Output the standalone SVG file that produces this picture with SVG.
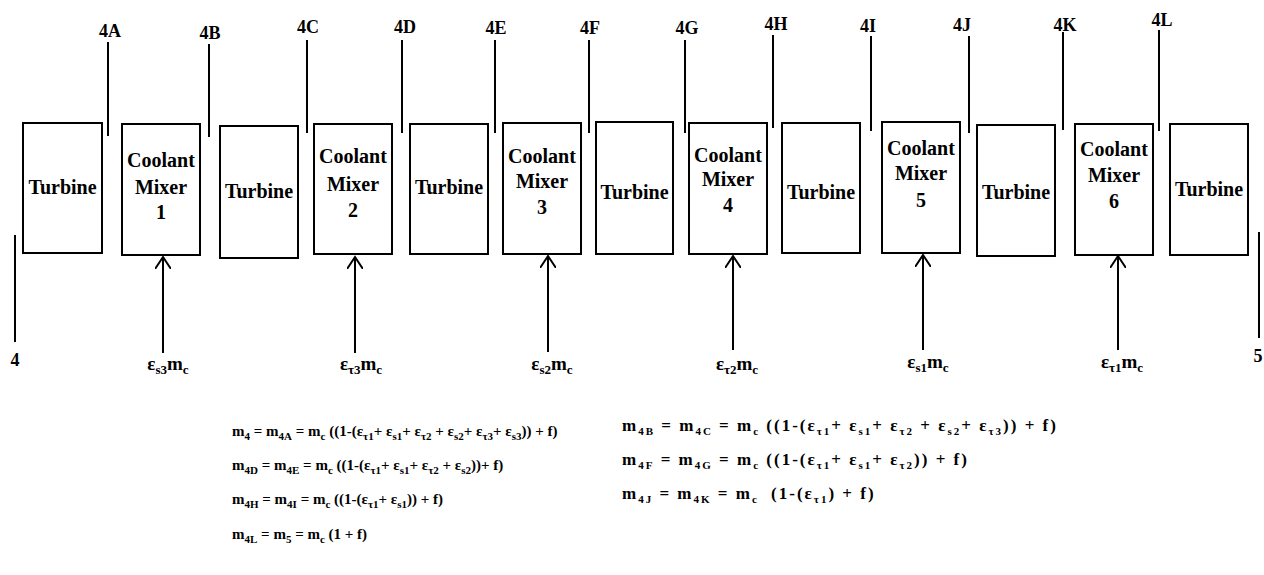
<svg xmlns="http://www.w3.org/2000/svg" width="1264" height="575" viewBox="0 0 1264 575">
  <style>
    text { font-family: "Liberation Serif", "Times New Roman", serif; font-weight: bold; fill: #000; }
    .box { fill: #fff; stroke: #000; stroke-width: 2; }
    .lbl { font-size: 20px; text-anchor: middle; }
    .stn { font-size: 18px; text-anchor: middle; }
    .flow { font-size: 19px; text-anchor: middle; }
    .eq { font-size: 15px; }
    .eqr { font-size: 17px; letter-spacing: 2px; }
    .s { font-size: 11px; }
    .fs { font-size: 13px; }
    .wire { stroke: #000; stroke-width: 2; fill: none; }
  </style>
  <defs>
    <marker id="vee" markerWidth="16" markerHeight="16" refX="12" refY="8" orient="auto" markerUnits="userSpaceOnUse">
      <path d="M0,0 L12,8 L0,16" fill="none" stroke="#000" stroke-width="2"/>
    </marker>
  </defs>

  <rect width="1264" height="575" fill="#fff"/>

  <!-- stage blocks -->
  <g id="turbine-1"><rect class="box" x="23" y="123" width="79" height="130"/><text class="lbl" x="62.5" y="194">Turbine</text></g>
  <g id="mixer-1"><rect class="box" x="122" y="124" width="78" height="131"/><text class="lbl" x="161" y="167">Coolant</text><text class="lbl" x="161" y="194">Mixer</text><text class="lbl" x="161" y="219">1</text></g>
  <g id="turbine-2"><rect class="box" x="220" y="126" width="78" height="132"/><text class="lbl" x="259" y="198">Turbine</text></g>
  <g id="mixer-2"><rect class="box" x="314" y="124" width="78" height="130"/><text class="lbl" x="353" y="163">Coolant</text><text class="lbl" x="353" y="191">Mixer</text><text class="lbl" x="353" y="217">2</text></g>
  <g id="turbine-3"><rect class="box" x="410" y="124" width="78" height="130"/><text class="lbl" x="449" y="194">Turbine</text></g>
  <g id="mixer-3"><rect class="box" x="503" y="123" width="78" height="131"/><text class="lbl" x="542" y="163">Coolant</text><text class="lbl" x="542" y="188">Mixer</text><text class="lbl" x="542" y="214">3</text></g>
  <g id="turbine-4"><rect class="box" x="596" y="122" width="77" height="132"/><text class="lbl" x="634.5" y="199">Turbine</text></g>
  <g id="mixer-4"><rect class="box" x="689" y="123" width="78" height="131"/><text class="lbl" x="728" y="162">Coolant</text><text class="lbl" x="728" y="186">Mixer</text><text class="lbl" x="728" y="212">4</text></g>
  <g id="turbine-5"><rect class="box" x="782" y="123" width="78" height="130"/><text class="lbl" x="821" y="199">Turbine</text></g>
  <g id="mixer-5"><rect class="box" x="882" y="122" width="78" height="131"/><text class="lbl" x="921" y="155">Coolant</text><text class="lbl" x="921" y="180">Mixer</text><text class="lbl" x="921" y="207">5</text></g>
  <g id="turbine-6"><rect class="box" x="977" y="125" width="78" height="131"/><text class="lbl" x="1016" y="199">Turbine</text></g>
  <g id="mixer-6"><rect class="box" x="1075" y="124" width="78" height="131"/><text class="lbl" x="1114" y="156">Coolant</text><text class="lbl" x="1114" y="182">Mixer</text><text class="lbl" x="1114" y="208">6</text></g>
  <g id="turbine-7"><rect class="box" x="1170" y="124" width="78" height="131"/><text class="lbl" x="1209" y="196">Turbine</text></g>

  <!-- station markers -->
  <g id="stations">
    <line class="wire" x1="108" y1="42" x2="108" y2="136"/><text class="stn" x="110" y="37">4A</text>
    <line class="wire" x1="209" y1="44" x2="209" y2="137"/><text class="stn" x="210" y="39">4B</text>
    <line class="wire" x1="307" y1="40" x2="307" y2="133"/><text class="stn" x="308" y="33">4C</text>
    <line class="wire" x1="402" y1="40" x2="402" y2="133"/><text class="stn" x="405" y="33">4D</text>
    <line class="wire" x1="495" y1="40" x2="495" y2="133"/><text class="stn" x="496" y="34">4E</text>
    <line class="wire" x1="589" y1="40" x2="589" y2="133"/><text class="stn" x="590" y="34">4F</text>
    <line class="wire" x1="685" y1="40" x2="685" y2="133"/><text class="stn" x="687" y="34">4G</text>
    <line class="wire" x1="773" y1="35" x2="773" y2="128"/><text class="stn" x="776" y="30">4H</text>
    <line class="wire" x1="871" y1="36" x2="871" y2="131"/><text class="stn" x="868" y="32">4I</text>
    <line class="wire" x1="969" y1="36" x2="969" y2="133"/><text class="stn" x="962" y="31">4J</text>
    <line class="wire" x1="1063" y1="32" x2="1063" y2="130"/><text class="stn" x="1065" y="31">4K</text>
    <line class="wire" x1="1159" y1="30" x2="1159" y2="131"/><text class="stn" x="1162" y="26">4L</text>
    <line class="wire" x1="15" y1="235" x2="15" y2="342"/><text class="stn" x="15" y="366">4</text>
    <line class="wire" x1="1259" y1="232" x2="1259" y2="338"/><text class="stn" x="1258" y="362">5</text>
  </g>

  <!-- coolant injections -->
  <g id="connectors">
    <line class="wire" x1="163" y1="353" x2="163" y2="257" marker-end="url(#vee)"/>
    <line class="wire" x1="355" y1="353" x2="355" y2="257" marker-end="url(#vee)"/>
    <line class="wire" x1="548" y1="352" x2="548" y2="256" marker-end="url(#vee)"/>
    <line class="wire" x1="733" y1="350" x2="733" y2="256" marker-end="url(#vee)"/>
    <line class="wire" x1="923" y1="350" x2="923" y2="255" marker-end="url(#vee)"/>
    <line class="wire" x1="1118" y1="350" x2="1118" y2="256" marker-end="url(#vee)"/>
  </g>

  <g id="flow-labels">
    <text class="flow" x="168" y="370">ε<tspan class="fs" dy="4">s3</tspan><tspan dy="-4">m</tspan><tspan class="fs" dy="4">c</tspan></text>
    <text class="flow" x="361" y="370">ε<tspan class="fs" dy="4">τ3</tspan><tspan dy="-4">m</tspan><tspan class="fs" dy="4">c</tspan></text>
    <text class="flow" x="552" y="370">ε<tspan class="fs" dy="4">s2</tspan><tspan dy="-4">m</tspan><tspan class="fs" dy="4">c</tspan></text>
    <text class="flow" x="737" y="370">ε<tspan class="fs" dy="4">τ2</tspan><tspan dy="-4">m</tspan><tspan class="fs" dy="4">c</tspan></text>
    <text class="flow" x="928" y="368">ε<tspan class="fs" dy="4">s1</tspan><tspan dy="-4">m</tspan><tspan class="fs" dy="4">c</tspan></text>
    <text class="flow" x="1122" y="368">ε<tspan class="fs" dy="4">τ1</tspan><tspan dy="-4">m</tspan><tspan class="fs" dy="4">c</tspan></text>
  </g>

  <!-- mass-flow balance -->
  <g id="equations">
    <text class="eq" x="232" y="436">m<tspan class="s" dy="4">4</tspan><tspan dy="-4"> = m</tspan><tspan class="s" dy="4">4A</tspan><tspan dy="-4"> = m</tspan><tspan class="s" dy="4">c</tspan><tspan dy="-4"> ((1-(ε</tspan><tspan class="s" dy="4">τ1</tspan><tspan dy="-4">+ ε</tspan><tspan class="s" dy="4">s1</tspan><tspan dy="-4">+ ε</tspan><tspan class="s" dy="4">τ2</tspan><tspan dy="-4"> + ε</tspan><tspan class="s" dy="4">s2</tspan><tspan dy="-4">+ ε</tspan><tspan class="s" dy="4">τ3</tspan><tspan dy="-4">+ ε</tspan><tspan class="s" dy="4">s3</tspan><tspan dy="-4">)) + f)</tspan></text>
    <text class="eq" x="232" y="470">m<tspan class="s" dy="4">4D</tspan><tspan dy="-4"> = m</tspan><tspan class="s" dy="4">4E</tspan><tspan dy="-4"> = m</tspan><tspan class="s" dy="4">c</tspan><tspan dy="-4"> ((1-(ε</tspan><tspan class="s" dy="4">τ1</tspan><tspan dy="-4">+ ε</tspan><tspan class="s" dy="4">s1</tspan><tspan dy="-4">+ ε</tspan><tspan class="s" dy="4">τ2</tspan><tspan dy="-4"> + ε</tspan><tspan class="s" dy="4">s2</tspan><tspan dy="-4">))+ f)</tspan></text>
    <text class="eq" x="232" y="504">m<tspan class="s" dy="4">4H</tspan><tspan dy="-4"> = m</tspan><tspan class="s" dy="4">4I</tspan><tspan dy="-4"> = m</tspan><tspan class="s" dy="4">c</tspan><tspan dy="-4"> ((1-(ε</tspan><tspan class="s" dy="4">τ1</tspan><tspan dy="-4">+ ε</tspan><tspan class="s" dy="4">s1</tspan><tspan dy="-4">)) + f)</tspan></text>
    <text class="eq" x="232" y="539">m<tspan class="s" dy="4">4L</tspan><tspan dy="-4"> = m</tspan><tspan class="s" dy="4">5</tspan><tspan dy="-4"> = m</tspan><tspan class="s" dy="4">c</tspan><tspan dy="-4"> (1 + f)</tspan></text>
    <text class="eqr" x="622" y="431">m<tspan class="s" dy="4">4B</tspan><tspan dy="-4"> = m</tspan><tspan class="s" dy="4">4C</tspan><tspan dy="-4"> = m</tspan><tspan class="s" dy="4">c</tspan><tspan dy="-4"> ((1-(ε</tspan><tspan class="s" dy="4">τ1</tspan><tspan dy="-4">+ ε</tspan><tspan class="s" dy="4">s1</tspan><tspan dy="-4">+ ε</tspan><tspan class="s" dy="4">τ2</tspan><tspan dy="-4"> + ε</tspan><tspan class="s" dy="4">s2</tspan><tspan dy="-4">+ ε</tspan><tspan class="s" dy="4">τ3</tspan><tspan dy="-4">)) + f)</tspan></text>
    <text class="eqr" x="622" y="465">m<tspan class="s" dy="4">4F</tspan><tspan dy="-4"> = m</tspan><tspan class="s" dy="4">4G</tspan><tspan dy="-4"> = m</tspan><tspan class="s" dy="4">c</tspan><tspan dy="-4"> ((1-(ε</tspan><tspan class="s" dy="4">τ1</tspan><tspan dy="-4">+ ε</tspan><tspan class="s" dy="4">s1</tspan><tspan dy="-4">+ ε</tspan><tspan class="s" dy="4">τ2</tspan><tspan dy="-4">)) + f)</tspan></text>
    <text class="eqr" x="622" y="499">m<tspan class="s" dy="4">4J</tspan><tspan dy="-4"> = m</tspan><tspan class="s" dy="4">4K</tspan><tspan dy="-4"> = m</tspan><tspan class="s" dy="4">c</tspan><tspan dy="-4" dx="6"> (1-(ε</tspan><tspan class="s" dy="4">τ1</tspan><tspan dy="-4">) + f)</tspan></text>
  </g>
</svg>
